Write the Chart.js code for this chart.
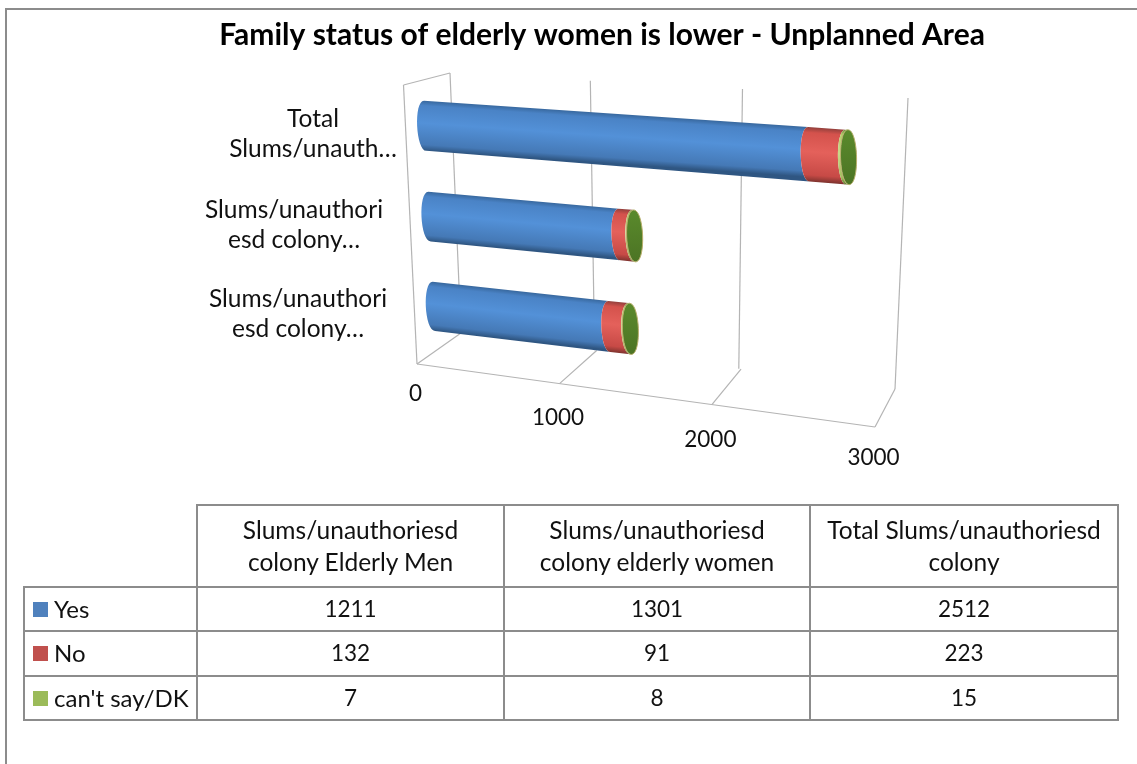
<!DOCTYPE html>
<html>
<head>
<meta charset="utf-8">
<title>Family status of elderly women</title>
<script src="https://cdn.jsdelivr.net/npm/chart.js@4/dist/chart.umd.min.js"></script>
<style>
  html, body { margin: 0; padding: 0; background: #fff; overflow: hidden; }
  #wrap { position: relative; width: 1137px; height: 764px; font-family: Lato, sans-serif; color: #111; }
  #frame { position: absolute; left: 5px; top: 8px; width: 1140px; height: 770px; border: 2px solid #8c8c8c; box-sizing: border-box; }
  canvas { position: absolute; left: 0; top: 0; }
  #dataTable { position: absolute; left: 23px; top: 504px; width: 1094px; border-collapse: collapse; table-layout: fixed; font-size: 24.5px; }
  #dataTable td { border: 2.5px solid #8c8c8c; text-align: center; padding: 0; line-height: 32px; }
  #dataTable td.num { font-size: 22.5px; }
  #dataTable tr:first-child td { height: 80px; }
  #dataTable tr:not(:first-child) td { height: 42.3px; }
  #dataTable td.blank { border-top: none; border-left: none; }
  #dataTable td.key { text-align: left; padding-left: 8px; white-space: nowrap; font-size: 24px; }
  .swatch { display: inline-block; width: 15px; height: 15px; margin-right: 6px; position: relative; top: -1px; }
</style>
</head>
<body>
<div id="wrap">
  <div id="frame"></div>
  <canvas id="myChart" width="1137" height="764"></canvas>
  <table id="dataTable"></table>
</div>
<script>
const chartTitle = 'Family status of elderly women is lower - Unplanned Area';
const categories = ['Slums/unauthoriesd colony Elderly Men', 'Slums/unauthoriesd colony elderly women', 'Total Slums/unauthoriesd colony'];
const headerLines = [['Slums/unauthoriesd', 'colony Elderly Men'], ['Slums/unauthoriesd', 'colony elderly women'], ['Total Slums/unauthoriesd', 'colony']];
const axisLabelLines = [['Slums/unauthori', 'esd colony…'], ['Slums/unauthori', 'esd colony…'], ['Total', 'Slums/unauth…']];
const yesValues = [1211, 1301, 2512];
const noValues = [132, 91, 223];
const dkValues = [7, 8, 15];
const seriesNames = ['Yes', 'No', "can't say/DK"];
const seriesColors = ['#4f81bd', '#c0504d', '#9bbb59'];
const axisMax = 3000;
const axisStep = 1000;

// gradient stops for the tube look: edge, light middle, edge
const tubeShades = [
  ['#38689e', '#4a83c6', '#5391d8', '#4579b6', '#2f5682'],
  ['#93403c', '#d4524c', '#e4615b', '#c74a46', '#80342f'],
  ['#6f8a3a', '#b5cf6a', '#c9d98a', '#a5bd5c', '#5f7a30'],
];

// square -> quad mapping, used to put the flat chart area into the 3d view
const makeView = (p0, p1, p2, p3) => {
  const dx1 = p1[0] - p2[0], dx2 = p3[0] - p2[0], sx = p0[0] - p1[0] + p2[0] - p3[0];
  const dy1 = p1[1] - p2[1], dy2 = p3[1] - p2[1], sy = p0[1] - p1[1] + p2[1] - p3[1];
  const den = dx1 * dy2 - dx2 * dy1;
  const g = (sx * dy2 - dx2 * sy) / den;
  const h = (dx1 * sy - sx * dy1) / den;
  const a = p1[0] - p0[0] + g * p1[0], b = p3[0] - p0[0] + h * p3[0];
  const d = p1[1] - p0[1] + g * p1[1], e = p3[1] - p0[1] + h * p3[1];
  return (u, v) => {
    const w = g * u + h * v + 1;
    return { x: (a * u + b * v + p0[0]) / w, y: (d * u + e * v + p0[1]) / w };
  };
};

const barPlane = makeView([423, 80], [890, 110], [896, 408], [436, 351]);
const backWall = makeView([450, 73], [908, 98], [895, 389], [461, 333]);
const floorPlane = makeView([461, 333], [895, 389], [875, 427], [417, 364]);
const sideTop = [403.5, 85];
const capRadius = 8;
const tickTextDrop = [30, 34.5, 35, 31];
const labelCentres = [298, 294, 313];

const line = (ctx, a, b) => {
  ctx.beginPath();
  ctx.moveTo(a.x, a.y);
  ctx.lineTo(b.x, b.y);
  ctx.stroke();
};

const drawFrame = (chart) => {
  const { ctx, scales } = chart;
  const xScale = scales.x;
  const toU = (value) => (xScale.getPixelForValue(value) - xScale.left) / xScale.width;
  ctx.save();
  ctx.strokeStyle = '#b4b4b4';
  ctx.lineWidth = 1.2;
  xScale.ticks.forEach((tick) => {
    const u = toU(tick.value);
    line(ctx, backWall(u, 0), backWall(u, 1));
    line(ctx, floorPlane(u, 0), floorPlane(u, 1));
  });
  line(ctx, floorPlane(0, 1), floorPlane(1, 1));
  const corner = { x: sideTop[0], y: sideTop[1] };
  line(ctx, corner, floorPlane(0, 1));
  line(ctx, corner, backWall(0, 0));
  ctx.restore();
};

const drawAxisText = (chart) => {
  const { ctx, scales } = chart;
  const xScale = scales.x;
  const yScale = scales.y;
  ctx.save();
  ctx.fillStyle = '#111';
  ctx.font = '22.5px Lato, sans-serif';
  ctx.textAlign = 'center';
  ctx.textBaseline = 'middle';
  xScale.ticks.forEach((tick, i) => {
    const u = (xScale.getPixelForValue(tick.value) - xScale.left) / xScale.width;
    const p = floorPlane(u, 1);
    ctx.fillText(tick.label, p.x - 1.5, p.y + tickTextDrop[i]);
  });
  ctx.font = '24.5px Lato, sans-serif';
  axisLabelLines.forEach((lines, i) => {
    const v = (yScale.getPixelForValue(i) - yScale.top) / yScale.height;
    const p = barPlane(0, v);
    lines.forEach((text, n) => {
      ctx.fillText(text, labelCentres[i], p.y + 8 + (n - 0.5) * 30);
    });
  });
  ctx.font = 'bold 30px Lato, sans-serif';
  ctx.fillStyle = '#000';
  ctx.fillText(chartTitle, 602, 35);
  ctx.restore();
};

// bands run along the tube, so the gradient goes square to its axis
const tubeGradient = (ctx, a, b, d, shades) => {
  const len = Math.hypot(b.x - a.x, b.y - a.y) || 1;
  const nx = -(b.y - a.y) / len, ny = (b.x - a.x) / len;
  const span = (d.x - a.x) * nx + (d.y - a.y) * ny;
  const grad = ctx.createLinearGradient(a.x, a.y, a.x + nx * span, a.y + ny * span);
  [0, 0.1, 0.45, 0.88, 1].forEach((stop, i) => grad.addColorStop(stop, shades[i]));
  return grad;
};

// one stacked piece of a tube: both seams bow to the left, the view comes from the right
const drawTubePiece = (ctx, a, b, c, d, shades) => {
  const bow = capRadius * 4 / 3;
  ctx.beginPath();
  ctx.moveTo(a.x, a.y);
  ctx.lineTo(b.x, b.y);
  ctx.bezierCurveTo(b.x - bow, b.y, c.x - bow, c.y, c.x, c.y);
  ctx.lineTo(d.x, d.y);
  ctx.bezierCurveTo(d.x - bow, d.y, a.x - bow, a.y, a.x, a.y);
  ctx.closePath();
  ctx.fillStyle = tubeGradient(ctx, a, b, d, shades);
  ctx.fill();
};

const drawCap = (ctx, top, bottom) => {
  const bow = capRadius * 4 / 3;
  ctx.beginPath();
  ctx.moveTo(top.x, top.y);
  ctx.bezierCurveTo(top.x + bow, top.y, bottom.x + bow, bottom.y, bottom.x, bottom.y);
  ctx.bezierCurveTo(bottom.x - bow, bottom.y, top.x - bow, top.y, top.x, top.y);
  ctx.closePath();
  const grad = ctx.createLinearGradient(top.x, top.y, bottom.x, bottom.y);
  grad.addColorStop(0, '#5a8a2c');
  grad.addColorStop(1, '#4c7424');
  ctx.fillStyle = grad;
  ctx.fill();
  ctx.strokeStyle = '#b7ae6a';
  ctx.lineWidth = 1;
  ctx.stroke();
};

const tubePlugin = {
  id: 'tubes',
  beforeDatasetsDraw(chart) {
    const { ctx, chartArea } = chart;
    const toU = (px) => (px - chartArea.left) / (chartArea.right - chartArea.left);
    const toV = (py) => (py - chartArea.top) / (chartArea.bottom - chartArea.top);
    drawFrame(chart);
    categories.forEach((cat, index) => {
      let lastTop, lastBottom;
      chart.data.datasets.forEach((ds, dsIndex) => {
        const bar = chart.getDatasetMeta(dsIndex).data[index];
        const vTop = toV(bar.y - bar.height / 2);
        const vBottom = toV(bar.y + bar.height / 2);
        const a = barPlane(toU(bar.base), vTop);
        const b = barPlane(toU(bar.x), vTop);
        const c = barPlane(toU(bar.x), vBottom);
        const d = barPlane(toU(bar.base), vBottom);
        drawTubePiece(ctx, a, b, c, d, tubeShades[dsIndex]);
        lastTop = b;
        lastBottom = c;
      });
      drawCap(ctx, lastTop, lastBottom);
    });
    drawAxisText(chart);
    return false;
  },
};

const ctx = document.getElementById('myChart').getContext('2d');
new Chart(ctx, {
  type: 'bar',
  data: {
    labels: categories,
    datasets: [
      { label: seriesNames[0], data: yesValues, backgroundColor: seriesColors[0] },
      { label: seriesNames[1], data: noValues, backgroundColor: seriesColors[1] },
      { label: seriesNames[2], data: dkValues, backgroundColor: seriesColors[2] },
    ],
  },
  plugins: [tubePlugin],
  options: {
    indexAxis: 'y',
    responsive: false,
    animation: false,
    layout: { padding: 0 },
    datasets: { bar: { barPercentage: 0.55, categoryPercentage: 1 } },
    plugins: { legend: { display: false }, title: { display: false }, tooltip: { enabled: false } },
    scales: {
      x: { display: false, stacked: true, min: 0, max: axisMax, ticks: { stepSize: axisStep, callback: (v) => String(v) } },
      y: { display: false, stacked: true, reverse: true },
    },
  },
});

// data table under the chart
const table = document.getElementById('dataTable');
const colWidths = [173, 307, 306, 308];
table.innerHTML = '<colgroup>' + colWidths.map((w) => `<col style="width:${w}px">`).join('') + '</colgroup>'
  + '<tr><td class="blank"></td>' + headerLines.map((lines) => `<td>${lines.join('<br>')}</td>`).join('') + '</tr>'
  + [yesValues, noValues, dkValues].map((vals, i) => `<tr><td class="key"><span class="swatch" style="background:${seriesColors[i]}"></span>${seriesNames[i]}</td>`
    + vals.map((v) => `<td class="num">${v}</td>`).join('') + '</tr>').join('');
</script>
</body>
</html>
